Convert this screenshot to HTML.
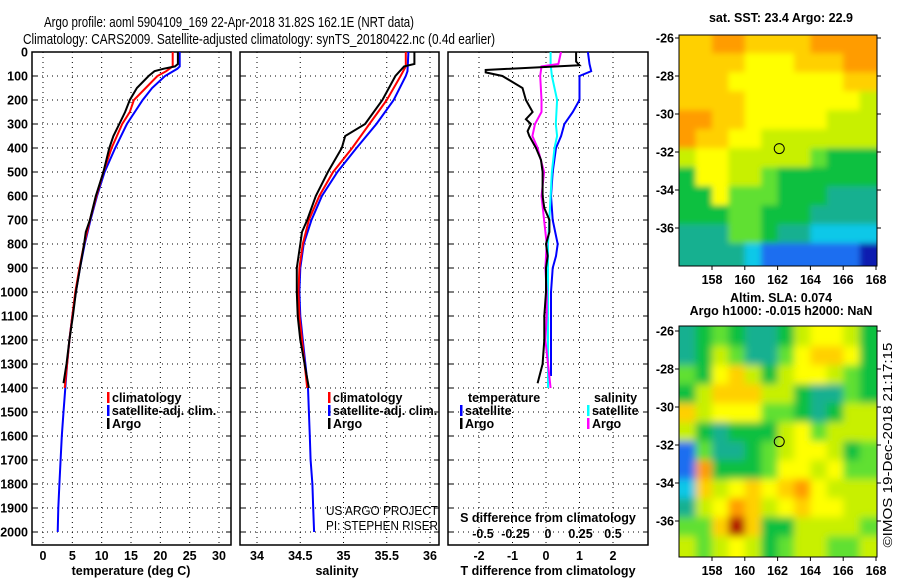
<!DOCTYPE html>
<html><head><meta charset="utf-8">
<style>
html,body{margin:0;padding:0;background:#fff;}
svg{display:block;font-family:"Liberation Sans",sans-serif;}
.t{font-weight:bold;font-size:12.5px;fill:#000;}
</style></head>
<body>
<svg id="s" width="900" height="580" viewBox="0 0 900 580">
<rect width="900" height="580" fill="#fff"/>
<text x="44" y="27" font-size="15" textLength="370" lengthAdjust="spacingAndGlyphs">Argo profile: aoml 5904109_169 22-Apr-2018 31.82S 162.1E (NRT data)</text>
<text x="23" y="44" font-size="15" textLength="472" lengthAdjust="spacingAndGlyphs">Climatology: CARS2009. Satellite-adjusted climatology: synTS_20180422.nc (0.4d earlier)</text>
<g id="g"></g>
</svg>
<script>
// ---------- data ----------
const depthTicks=[0,100,200,300,400,500,600,700,800,900,1000,1100,1200,1300,1400,1500,1600,1700,1800,1900,2000];
const tempTicks=[0,5,10,15,20,25,30];
const salTicks=[34,34.5,35,35.5,36];
const tdTicks=[-2,-1,0,1,2];
const sdTicks=[-0.5,-0.25,0,0.25,0.5];
const sdTickLabels=["-0.5","-0.25","0","0.25","0.5"];
const tClimDepth=[0,60,80,100,150,200,250,300,400,500,600,700,800,900,1000,1100,1200,1300,1400];
const tClimVal=[22.1,22.1,21,19.5,17.5,15.5,14.8,13.5,11.7,10.3,9.1,8,7,6.2,5.5,5,4.5,4.1,3.7];
const tSatDepth=[0,60,70,100,150,200,300,400,500,600,700,800,900,1000,1100,1200,1300,1400,1500,1600,1700,1800,1900,2000];
const tSatVal=[23.3,23.3,22.9,20.8,18.6,17,14.3,12.3,10.5,9.2,8.1,7.1,6.3,5.6,5,4.5,4.1,3.8,3.5,3.2,3,2.8,2.6,2.5];
const tArgoDepth=[0,50,60,70,80,100,150,200,250,300,350,400,500,600,700,750,800,900,1000,1100,1200,1300,1380];
const tArgoVal=[23,23,22.5,20.5,19,18,16,14.8,14,13,12,11.3,10.3,9,8,7.3,7,6.3,5.6,5.1,4.5,4,3.5];
const sClimDepth=[0,60,100,200,300,400,500,600,700,800,900,1000,1100,1200,1300,1400];
const sClimVal=[35.72,35.72,35.66,35.5,35.3,35.1,34.88,34.72,34.6,34.53,34.49,34.48,34.49,34.52,34.55,34.58];
const sSatDepth=[0,80,100,200,300,400,500,600,700,800,900,1000,1100,1200,1300,1400,1500,1600,1700,1800,1900,2000];
const sSatVal=[35.75,35.74,35.72,35.58,35.38,35.15,34.93,34.75,34.63,34.54,34.5,34.49,34.5,34.53,34.56,34.59,34.6,34.61,34.62,34.64,34.65,34.66];
const sArgoDepth=[0,50,60,100,200,300,350,400,500,600,700,750,800,900,1000,1100,1200,1300,1400];
const sArgoVal=[35.82,35.82,35.7,35.6,35.45,35.25,35.02,34.98,34.82,34.68,34.58,34.52,34.5,34.46,34.46,34.47,34.5,34.55,34.6];
const dTArgoDepth=[0,40,55,75,85,100,150,200,250,280,300,330,350,400,450,500,600,650,700,750,800,850,900,1000,1100,1200,1300,1380];
const dTArgoVal=[0.9,0.9,1.0,-1.8,-1.8,-1.3,-0.7,-0.6,-0.4,-0.6,-0.45,-0.55,-0.5,-0.3,-0.15,-0.1,-0.1,-0.05,0.1,0.1,0,0.05,0,0,-0.05,-0.05,-0.1,-0.25];
const dTSatDepth=[0,50,80,100,200,250,300,350,400,500,600,700,800,850,900,1000,1100,1200,1300,1350];
const dTSatVal=[1.25,1.3,1.35,1.0,1.0,0.8,0.55,0.45,0.3,0.2,0.15,0.2,0.35,0.3,0.2,0.15,0.15,0.15,0.15,0.15];
const dSArgoDepth=[0,50,60,100,200,250,300,350,400,500,600,700,800,900,1000,1100,1200,1300,1400];
const dSArgoVal=[0.1,0.08,-0.05,-0.06,-0.05,-0.05,-0.1,-0.12,-0.08,-0.03,-0.05,-0.03,-0.01,-0.02,-0.01,-0.01,-0.02,0,0.02];
const dSSatDepth=[0,50,100,200,300,350,400,500,600,700,800,900,1000,1100,1200,1300,1400];
const dSSatVal=[0.02,0.02,0.03,0.07,0.06,0.07,0.05,0.03,0.02,0.01,0,0,0,0,0,0,0];
const sstGrid=[
[8,8,9,9,8,8,8,8,9,9,9,9],[8,8,8,8,7,7,7,8,8,8,9,9],[8,8,8,7,7,7,7,7,7,7,8,8],[8,8,8,8,7,7,7,7,7,7,7,6],
[9,9,8,8,7,7,7,7,7,6,6,6],[9,8,8,7,7,6,6,6,6,6,6,6],[6,7,7,6,6,6,6,6,5,4,4,4],[4,7,7,6,6,5,4,4,4,4,4,4],
[4,4,7,5,5,5,4,4,4,3,3,3],[4,4,4,5,5,4,4,4,3,3,3,3],[3,3,3,5,5,4,3,3,2,2,2,2],[3,3,3,3,2,1,1,1,1,1,1,0]];
const slaGrid=[
[3,4,5,4,3,3,4,6,7,7,6,4],[3,4,6,5,3,3,5,7,8,8,7,4],[5,4,7,8,6,4,6,7,7,6,5,4],[4,6,8,8,8,6,6,4,3,3,5,4],
[8,6,7,7,7,5,5,4,3,4,6,6],[6,4,3,4,4,4,6,7,5,6,6,6],[1,5,3,3,4,5,6,7,7,6,4,5],[1,9,4,4,4,5,7,7,6,7,5,5],
[2,8,6,7,8,7,8,9,7,6,6,6],[3,6,7,9,8,6,7,8,7,7,6,6],[5,5,8,10,8,4,4,6,6,6,6,5],[6,5,6,7,6,4,5,6,6,5,5,6]];
const lonTicks=[158,160,162,164,166,168];
const latTicks=[-26,-28,-30,-32,-34,-36];
const argoLon=162.1, argoLat=-31.82;

// ---------- helpers ----------
const NS="http://www.w3.org/2000/svg";
const G=document.getElementById('g');
function mk(tag,attrs,parent){const e=document.createElementNS(NS,tag);for(const k in attrs)e.setAttribute(k,attrs[k]);(parent||G).appendChild(e);return e;}
const y0=52, yPer=0.24, yTop=52, yBot=545;
const yD=d=>y0+d*yPer;
function lin(v0,p0,v1,p1){return v=>p0+(v-v0)*(p1-p0)/(v1-v0);}
const panels=[
 {name:'temperature',x0:32,x1:231,sx:lin(0,43,30,219),ticks:tempTicks,labels:tempTicks.map(String),title:'temperature (deg C)',tx:131},
 {name:'salinity',x0:240,x1:439,sx:lin(34,257,36,430),ticks:salTicks,labels:salTicks.map(String),title:'salinity',tx:337},
 {name:'difference',x0:448,x1:648,sx:lin(-2,479,2,613),ticks:tdTicks,labels:tdTicks.map(String),title:'T difference from climatology',tx:548}
];
const sdx=lin(-0.5,483,0.5,613);

panels.forEach(p=>{
  const g=mk('g',{});
  
  
  depthTicks.forEach(d=>{
    const l=mk('line',{x1:p.x0,x2:p.x1,y1:yD(d),y2:yD(d),stroke:'#000','stroke-width':1,'stroke-dasharray':'1 4'},g);
    
    
    mk('line',{x1:p.x0,x2:p.x0+5,y1:yD(d),y2:yD(d),stroke:'#000'},g);
    mk('line',{x1:p.x1-5,x2:p.x1,y1:yD(d),y2:yD(d),stroke:'#000'},g);
  });
  p.ticks.forEach((v,i)=>{
    const x=p.sx(v);
    const l=mk('line',{x1:x,x2:x,y1:yTop,y2:yBot,stroke:'#000','stroke-width':1,'stroke-dasharray':'1 4'},g);
    
    
    const t=mk('text',{x:x,y:560,'text-anchor':'middle',class:'t'},g);
    t.textContent=p.labels[i];
    
    
  });
  const r=mk('rect',{x:p.x0,y:yTop,width:p.x1-p.x0,height:yBot-yTop,fill:'none',stroke:'#000','stroke-width':1.5},g);
  
  
  const at=mk('text',{x:p.tx,y:575,'text-anchor':'middle',class:'t'},g);
  at.textContent=p.title;
  
  
});
depthTicks.forEach(d=>{
  const t=mk('text',{x:28,y:yD(d)+4.5,'text-anchor':'end',class:'t'});
  t.textContent=String(d);
  
  
});
const sdt=mk('text',{x:548,y:522,'text-anchor':'middle',class:'t'});
sdt.textContent='S difference from climatology';


sdTicks.forEach((v,i)=>{
  const t=mk('text',{x:sdx(v),y:538,'text-anchor':'middle',class:'t'});
  t.textContent=sdTickLabels[i];
  
  
});

function profile(depths,vals,sx,color,name){
  const pts=[];
  for(let i=0;i<depths.length;i++){pts.push(sx(vals[i]).toFixed(1)+','+yD(depths[i]).toFixed(1));}
  const e=mk('polyline',{points:pts.join(' '),fill:'none',stroke:color,'stroke-width':2});
  
  
}
const P=panels;
profile(tSatDepth,tSatVal,P[0].sx,'#0000ff','temp-satellite-line');
profile(tClimDepth,tClimVal,P[0].sx,'#ff0000','temp-climatology-line');
profile(tArgoDepth,tArgoVal,P[0].sx,'#000','temp-argo-line');
profile(sSatDepth,sSatVal,P[1].sx,'#0000ff','sal-satellite-line');
profile(sClimDepth,sClimVal,P[1].sx,'#ff0000','sal-climatology-line');
profile(sArgoDepth,sArgoVal,P[1].sx,'#000','sal-argo-line');
profile(dTSatDepth,dTSatVal,P[2].sx,'#0000ff','tdiff-satellite-line');
profile(dSSatDepth,dSSatVal,sdx,'#00ffff','sdiff-satellite-line');
profile(dSArgoDepth,dSArgoVal,sdx,'#ff00ff','sdiff-argo-line');
profile(dTArgoDepth,dTArgoVal,P[2].sx,'#000','tdiff-argo-line');

function legend(x,y,items,name){
  const g=mk('g',{});
  
  
  items.forEach((it,i)=>{
    const yy=y+i*13;
    if(it[1]) mk('rect',{x:x,y:yy-10,width:2.5,height:11,fill:it[1]},g);
    const t=mk('text',{x:x+(it[1]?5:0),y:yy,class:'t'},g);
    t.textContent=it[0];
    
    
  });
}
legend(107,402,[['climatology','#ff0000'],['satellite-adj. clim.','#0000ff'],['Argo','#000']],'temp-legend');
legend(328,402,[['climatology','#ff0000'],['satellite-adj. clim.','#0000ff'],['Argo','#000']],'sal-legend');
legend(468,402,[['temperature',null]],'tdiff-legend-title');
legend(460,415,[['satellite','#0000ff'],['Argo','#000']],'tdiff-legend');
legend(594,402,[['salinity',null]],'sdiff-legend-title');
legend(587,415,[['satellite','#00ffff'],['Argo','#ff00ff']],'sdiff-legend');
[['US ARGO PROJECT',515],['PI: STEPHEN RISER',530]].forEach(a=>{
  const t=mk('text',{x:326,y:a[1],'font-size':12.5,fill:'#000',textLength:112,lengthAdjust:'spacingAndGlyphs'});
  t.textContent=a[0];
  
  
});

// ---------- maps ----------
const palette=['#0a1fb0','#1f6ef0','#10c8e8','#14b090','#10c040','#60e030','#c8f000','#ffff00','#ffd000','#ff9c00','#b01000'];
function drawMap(grid,top,bottom,latTop,lat36y,name,title,titleY,blur){
  const x0=679,x1=877;
  const lx=lin(158,712,168,876);
  const ly=lin(-26,latTop,-36,lat36y);
  const g=mk('g',{});
  
  
  const cid='clip'+name;
  const cp=mk('clipPath',{id:cid},g);
  mk('rect',{x:x0,y:top,width:x1-x0,height:bottom-top},cp);
  const cg=mk('g',{'clip-path':'url(#'+cid+')'},g);
  const inner=mk('g',{filter:'url(#'+blur+')'},cg);
  const nr=grid.length,nc=grid[0].length;
  for(let r=0;r<nr;r++)for(let c=0;c<nc;c++){
    const lonA=156+c, latA=-25.8-r;
    const xa=lx(lonA)-(c==0?12:0), xb=lx(lonA+1)+(c==nc-1?12:0);
    const ya=ly(latA)-(r==0?12:0), yb=ly(latA-1.02)+(r==nr-1?12:0);
    const cell=mk('rect',{x:xa.toFixed(1),y:ya.toFixed(1),width:(xb-xa+0.6).toFixed(1),height:(yb-ya+0.6).toFixed(1),fill:palette[grid[r][c]]},inner);
    
    
  }
  mk('rect',{x:x0,y:top,width:x1-x0,height:bottom-top,fill:'none',stroke:'#000','stroke-width':1},g);
  latTicks.forEach(v=>{
    const y=ly(v);
    mk('line',{x1:x0-4,x2:x0,y1:y,y2:y,stroke:'#000'},g);
    mk('line',{x1:x1,x2:x1+4,y1:y,y2:y,stroke:'#000'},g);
    const t=mk('text',{x:x0-5,y:y+4.5,'text-anchor':'end',class:'t'},g);
    t.textContent=String(v);
    
    
  });
  lonTicks.forEach(v=>{
    const x=lx(v);
    mk('line',{x1:x,x2:x,y1:bottom,y2:bottom+4,stroke:'#000'},g);
    const t=mk('text',{x:x,y:bottom+18,'text-anchor':'middle',class:'t'},g);
    t.textContent=String(v);
    
    
  });
  const c=mk('circle',{cx:lx(argoLon),cy:ly(argoLat),r:5,fill:'none',stroke:'#000','stroke-width':1},g);
  
  
  title.forEach((s,i)=>{
    const t=mk('text',{x:781,y:titleY+i*13,'text-anchor':'middle',class:'t'},g);
    t.textContent=s;
    
    
  });
}
const defs=mk('defs',{});
const f=mk('filter',{id:'bl',x:'-10%',y:'-10%',width:'120%',height:'120%'},defs);
mk('feGaussianBlur',{stdDeviation:4},f);
const f2=mk('filter',{id:'bs',x:'-10%',y:'-10%',width:'120%',height:'120%'},defs);
mk('feGaussianBlur',{stdDeviation:3},f2);
drawMap(sstGrid,35,266,38,228,'sst-map',['sat. SST: 23.4 Argo: 22.9'],22,'bs');
drawMap(slaGrid,326,557,331,521,'sla-map',['Altim. SLA: 0.074','Argo h1000: -0.015 h2000: NaN'],302,'bl');
const ts=mk('text',{x:0,y:0,'font-size':12.5,fill:'#000','text-anchor':'middle',textLength:205,lengthAdjust:'spacingAndGlyphs',transform:'translate(892,445) rotate(-90)'});
ts.textContent='©IMOS 19-Dec-2018 21:17:15';


</script>
</body></html>
